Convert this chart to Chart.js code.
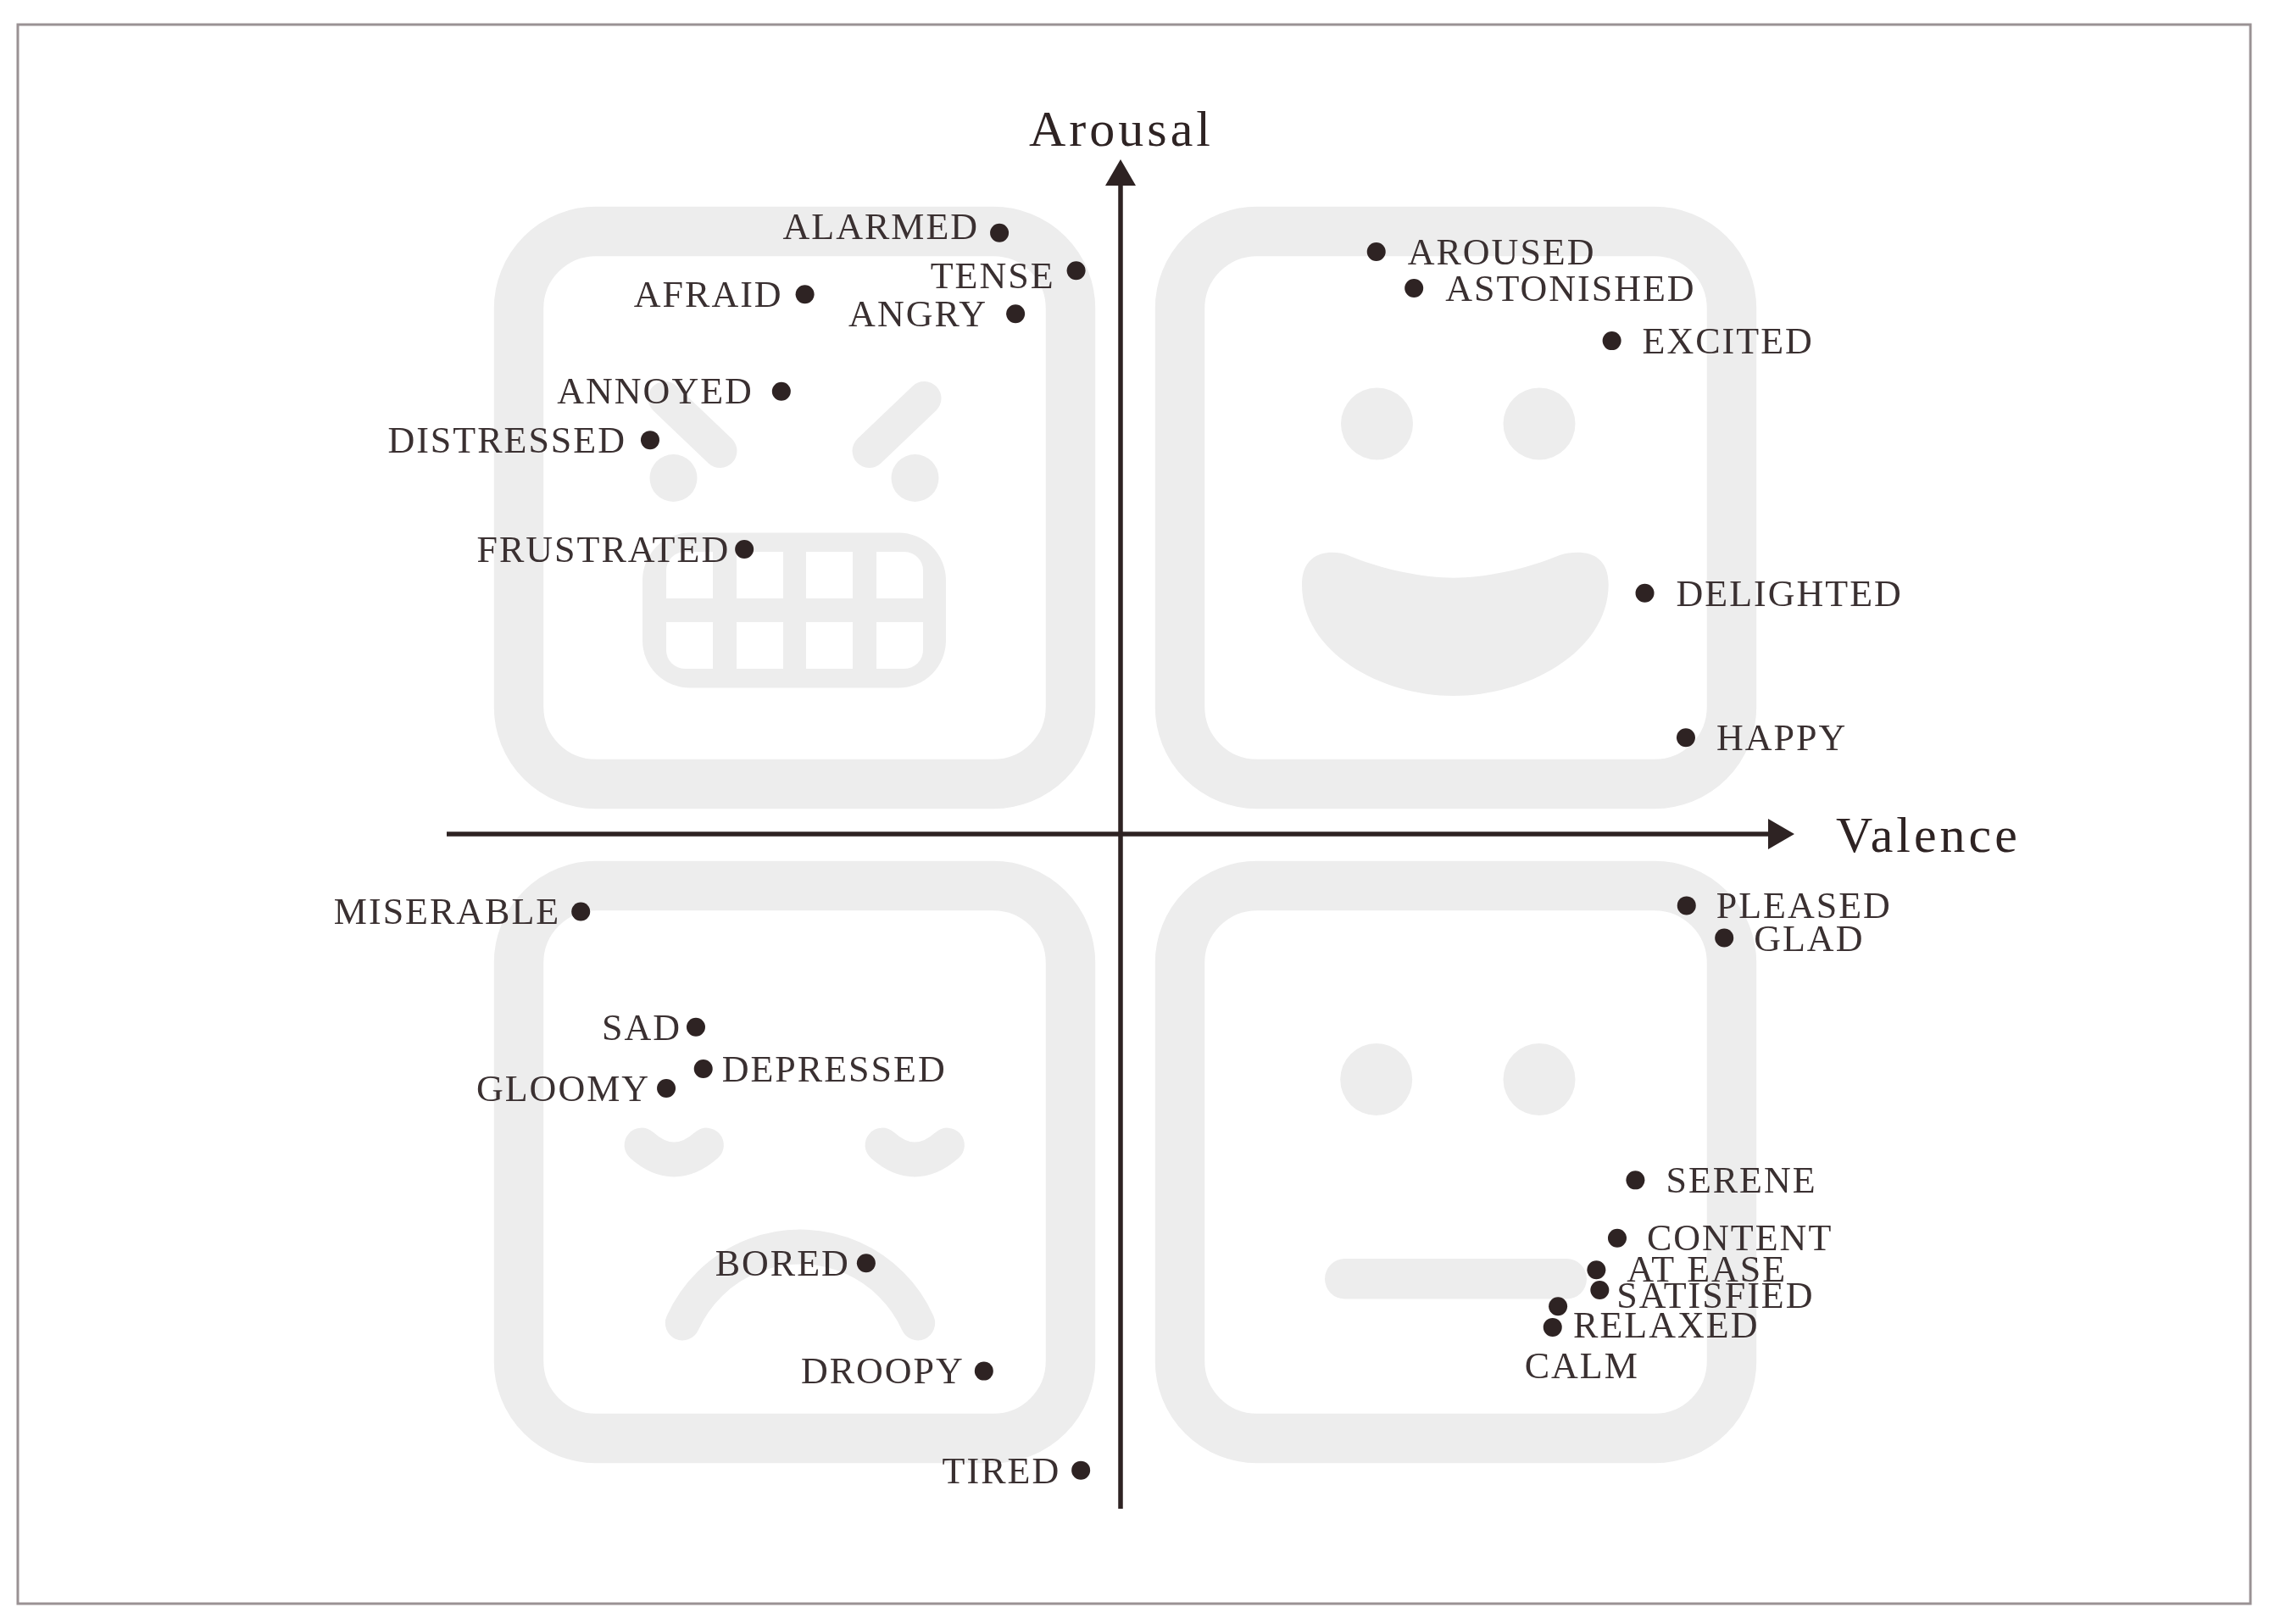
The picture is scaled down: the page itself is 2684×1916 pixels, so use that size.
<!DOCTYPE html>
<html>
<head>
<meta charset="utf-8">
<title>Valence Arousal</title>
<script src="https://cdn.jsdelivr.net/npm/chart.js"></script>
<style>
    html, body { margin: 0; padding: 0; background: #fff; }
    canvas { display: block; }
</style>
</head>
<body>
<canvas id="chart" width="2684" height="1916"></canvas>
<script>
const emotions = ['ALARMED', 'TENSE', 'AFRAID', 'ANGRY', 'ANNOYED', 'DISTRESSED', 'FRUSTRATED',
    'AROUSED', 'ASTONISHED', 'EXCITED', 'DELIGHTED', 'HAPPY',
    'PLEASED', 'GLAD', 'SERENE', 'CONTENT', 'AT EASE', 'SATISFIED', 'RELAXED', 'CALM',
    'MISERABLE', 'SAD', 'DEPRESSED', 'GLOOMY', 'BORED', 'DROOPY', 'TIRED'];
const valence = [-0.180, -0.066, -0.469, -0.156, -0.504, -0.699, -0.559,
    0.380, 0.436, 0.730, 0.779, 0.840,
    0.841, 0.897, 0.765, 0.738, 0.707, 0.712, 0.650, 0.642,
    -0.802, -0.631, -0.620, -0.675, -0.378, -0.203, -0.059];
const arousal = [0.891, 0.835, 0.800, 0.771, 0.656, 0.584, 0.422,
    0.863, 0.809, 0.731, 0.357, 0.143,
    -0.106, -0.154, -0.513, -0.599, -0.646, -0.676, -0.700, -0.731,
    -0.115, -0.286, -0.348, -0.377, -0.636, -0.796, -0.943];
const axisTitles = ['Valence', 'Arousal'];

// label placement next to its dot, px
const labelDx = [-26, -27, -28, -35, -35, -30, -19,
    37, 37, 36, 37, 36,
    35, 35, 36, 35, 36, 20, 18, -33,
    -26, -19, 22, -21, -21, -25, -26];
const labelDy = [-8, 6, 0, 0, -1, 0, 0,
    0, 0, 0, 0, 0,
    0, 0, 0, -1, -1, 6, 22, 45,
    -1, 0, 0, 0, 0, -1, 0];
const labelAlign = ['right', 'right', 'right', 'right', 'right', 'right', 'right',
    'left', 'left', 'left', 'left', 'left',
    'left', 'left', 'left', 'left', 'left', 'left', 'left', 'left',
    'right', 'right', 'left', 'right', 'right', 'right', 'right'];

const INK = '#2e2323';
const FACE = '#ededed';

// the four pale faces behind the points, positions relative to the axis crossing
const facesPlugin = {
    id: 'faces',
    beforeDatasetsDraw(chart) {
        const ctx = chart.ctx;
        const cx = chart.scales.x.getPixelForValue(0);
        const cy = chart.scales.y.getPixelForValue(0);

        ctx.save();

        // outer frame of the figure
        ctx.strokeStyle = '#9a9294';
        ctx.lineWidth = 3;
        ctx.strokeRect(21, 29, 2634, 1863);

        ctx.strokeStyle = FACE;
        ctx.fillStyle = FACE;
        ctx.lineCap = 'round';

        [[cx - 739, cy - 740], [cx + 41, cy - 740], [cx - 739, cy + 32], [cx + 41, cy + 32]].forEach(([x, y]) => {
            ctx.lineWidth = 58.5;
            ctx.beginPath();
            ctx.roundRect(x + 29, y + 29, 651, 652, 91);
            ctx.stroke();
        });

        const disc = (x, y, r) => {
            ctx.beginPath();
            ctx.arc(x, y, r, 0, Math.PI * 2);
            ctx.fill();
        };

        // angry
        const ax = cx - 384.5, ay = cy - 385;
        disc(ax - 143, ay - 35, 28);
        disc(ax + 142, ay - 35, 28);
        ctx.lineWidth = 40;
        [[-153, -88], [153, 88]].forEach(([from, to]) => {
            ctx.beginPath();
            ctx.moveTo(ax + from, ay - 129);
            ctx.lineTo(ax + to, ay - 67);
            ctx.stroke();
        });
        ctx.beginPath();
        ctx.roundRect(ax - 179.5, ay + 29.6, 358, 183, 56);
        ctx.fill();
        ctx.fillStyle = '#fff';
        [-151.5, -68.5, 13.5, 96.5].forEach((x, i) => {
            [52, 135].forEach((y, j) => {
                const l = i === 0 ? 22 : 0, r = i === 3 ? 22 : 0;
                ctx.beginPath();
                ctx.roundRect(ax + x, ay + y, 55, 55, j === 0 ? [l, r, 0, 0] : [0, 0, r, l]);
                ctx.fill();
            });
        });
        ctx.fillStyle = FACE;

        // happy
        disc(cx + 302.5, cy - 484, 42.5);
        disc(cx + 494, cy - 484, 42.5);
        const sx = cx + 393, sy = cy - 294;
        ctx.beginPath();
        ctx.moveTo(sx - 125, sy - 35);
        ctx.bezierCurveTo(sx - 85, sy - 18, sx - 35, sy - 8.3, sx, sy - 8.3);
        ctx.bezierCurveTo(sx + 35, sy - 8.3, sx + 85, sy - 18, sx + 125, sy - 35);
        ctx.bezierCurveTo(sx + 150, sy - 42, sx + 182.7, sy - 40, sx + 182.7, sy);
        ctx.bezierCurveTo(sx + 182, sy + 80, sx + 85, sy + 131, sx, sy + 131);
        ctx.bezierCurveTo(sx - 85, sy + 131, sx - 179, sy + 80, sx - 179, sy);
        ctx.bezierCurveTo(sx - 179, sy - 40, sx - 145, sy - 42, sx - 125, sy - 35);
        ctx.fill();

        // sad
        ctx.lineWidth = 40.8;
        [0, 284].forEach(shift => {
            ctx.beginPath();
            ctx.moveTo(cx - 565 + shift, cy + 367);
            ctx.quadraticCurveTo(cx - 527 + shift, cy + 401, cx - 488.5 + shift, cy + 367);
            ctx.stroke();
        });
        ctx.beginPath();
        ctx.arc(cx - 378, cy + 639, 152, Math.PI + 0.42, Math.PI * 2 - 0.42);
        ctx.stroke();

        // flat
        disc(cx + 301.7, cy + 289.6, 42.5);
        disc(cx + 494, cy + 289.6, 42.5);
        ctx.beginPath();
        ctx.roundRect(cx + 241, cy + 501, 309, 47.6, 23.8);
        ctx.fill();

        ctx.restore();
    }
};

// arrows and all the text
const axesPlugin = {
    id: 'crossAxes',
    afterDatasetsDraw(chart) {
        const ctx = chart.ctx;
        const xs = chart.scales.x, ys = chart.scales.y;
        const cx = xs.getPixelForValue(0), cy = ys.getPixelForValue(0);
        const left = xs.getPixelForValue(-1), right = xs.getPixelForValue(1);
        const top = ys.getPixelForValue(1), bottom = ys.getPixelForValue(-1);

        ctx.save();
        ctx.strokeStyle = INK;
        ctx.fillStyle = INK;
        ctx.lineWidth = 5.5;
        ctx.beginPath();
        ctx.moveTo(left - 1, cy);
        ctx.lineTo(right - 30, cy);
        ctx.moveTo(cx, top + 30);
        ctx.lineTo(cx, bottom);
        ctx.stroke();

        ctx.beginPath();
        ctx.moveTo(right + 1, cy);
        ctx.lineTo(right - 30, cy - 18);
        ctx.lineTo(right - 30, cy + 18);
        ctx.closePath();
        ctx.moveTo(cx, top);
        ctx.lineTo(cx - 18, top + 31);
        ctx.lineTo(cx + 18, top + 31);
        ctx.closePath();
        ctx.fill();

        ctx.fillStyle = '#3a3031';
        ctx.textBaseline = 'alphabetic';
        ctx.font = '44px "Liberation Serif"';
        ctx.letterSpacing = '2px';
        emotions.forEach((name, i) => {
            ctx.textAlign = labelAlign[i];
            ctx.fillText(name,
                xs.getPixelForValue(valence[i]) + labelDx[i] + (labelAlign[i] === 'right' ? 2 : 0),
                ys.getPixelForValue(arousal[i]) + labelDy[i] + 15);
        });

        ctx.fillStyle = INK;
        ctx.font = '60px "Liberation Serif"';
        ctx.letterSpacing = '4px';
        ctx.textAlign = 'left';
        ctx.fillText(axisTitles[0], right + 50, cy + 21);
        ctx.textAlign = 'center';
        ctx.fillText(axisTitles[1], cx + 1, top - 16);
        ctx.restore();
    }
};

new Chart(document.getElementById('chart'), {
    type: 'scatter',
    data: {
        datasets: [{
            label: 'Emotions',
            data: emotions.map((name, i) => ({ x: valence[i], y: arousal[i] })),
            backgroundColor: INK,
            borderWidth: 0,
            pointRadius: 11,
            clip: false
        }]
    },
    options: {
        responsive: false,
        animation: false,
        layout: { padding: { left: 528, right: 568, top: 188, bottom: 136 } },
        plugins: {
            legend: { display: false },
            tooltip: { enabled: false }
        },
        scales: {
            x: { type: 'linear', min: -1, max: 1, display: false },
            y: { type: 'linear', min: -1, max: 1, display: false }
        }
    },
    plugins: [facesPlugin, axesPlugin]
});
</script>
</body>
</html>
